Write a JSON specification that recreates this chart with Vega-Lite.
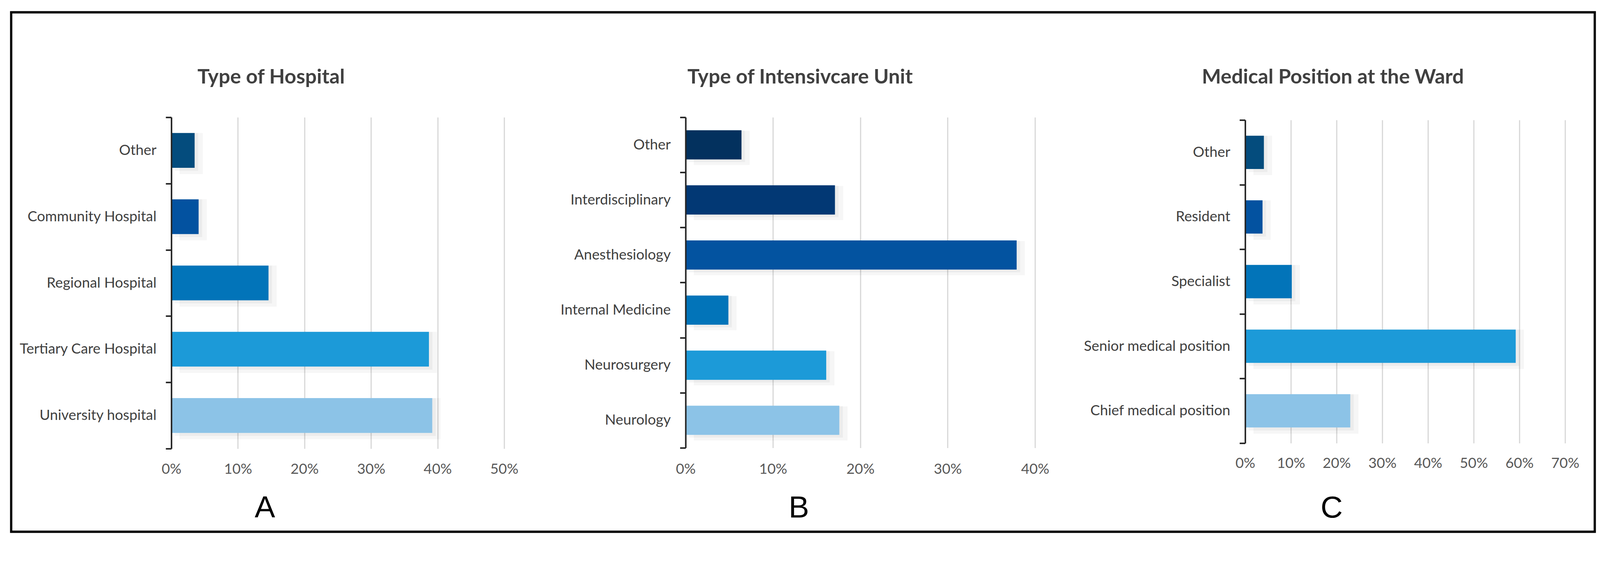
{
  "$schema": "https://vega.github.io/schema/vega-lite/v6.json",
  "width": 4054,
  "height": 1331,
  "autosize": {"type": "none"},
  "padding": {"left": 28.6, "top": 31.5, "right": 165.4, "bottom": 77.5},
  "background": "white",
  "config": {
    "view": {"stroke": "#000000", "strokeWidth": 5.8},
    "axis": {
      "labelFont": "Lato", "labelColor": "#595959", "labelFontSize": 36.8, "labelLimit": 1000,
      "gridColor": "#D6D6D6", "gridWidth": 2.9,
      "domainColor": "#262626", "domainWidth": 3.9,
      "tickColor": "#262626", "tickWidth": 3.9, "tickSize": 14.5,
      "titleFont": "Lato", "titleColor": "#404040", "titleFontWeight": "bold", "titleFontSize": 52
    }
  },
  "resolve": {
    "scale": {"x": "independent", "y": "independent", "color": "independent"},
    "axis": {"x": "independent", "y": "independent"}
  },
  "layer": [
    {
      "data": {"values": [
        {"cat": "Other", "pct": 0.035},
        {"cat": "Community Hospital", "pct": 0.041},
        {"cat": "Regional Hospital", "pct": 0.146},
        {"cat": "Tertiary Care Hospital", "pct": 0.387},
        {"cat": "University hospital", "pct": 0.392}
      ]},
      "resolve": {"axis": {"x": "independent", "y": "independent"}},
      "layer": [
        {
          "mark": {"type": "bar", "color": "#000000", "opacity": 0.035, "height": {"band": 0.62}, "xOffset": 21, "yOffset": 8},
          "encoding": {
            "x": {"field": "pct", "type": "quantitative",
              "scale": {"domain": [0, 0.5], "range": [410, 1262], "nice": false},
              "axis": {"orient": "bottom", "offset": -213, "values": [0, 0.1, 0.2, 0.3, 0.4, 0.5], "format": ".0%", "labelFlush": false,
                "grid": false, "ticks": false, "tickSize": 0, "domain": false, "labelPadding": 53, "labelBaseline": "middle",
                "title": "A", "titleX": 649, "titleY": 176, "titleAlign": "center", "titleBaseline": "alphabetic",
                "titleFont": "Liberation Sans", "titleFontWeight": "normal", "titleFontSize": 78.4, "titleColor": "#000000"}},
            "y": {"field": "cat", "type": "nominal",
              "scale": {"domain": ["Other", "Community Hospital", "Regional Hospital", "Tertiary Care Hospital", "University hospital"], "range": [269, 1118], "paddingInner": 0, "paddingOuter": 0},
              "axis": null}
          }
        },
        {
          "mark": {"type": "bar", "color": "#000000", "opacity": 0.04, "height": {"band": 0.57}, "xOffset": 9, "yOffset": 4},
          "encoding": {
            "x": {"field": "pct", "type": "quantitative", "axis": null},
            "y": {"field": "cat", "type": "nominal", "axis": null}
          }
        },
        {
          "mark": {"type": "bar", "height": {"band": 0.525}},
          "encoding": {
            "x": {"field": "pct", "type": "quantitative",
              "axis": {"orient": "top", "values": [0, 0.1, 0.2, 0.3, 0.4, 0.5], "grid": true, "labels": false, "ticks": false, "domain": false,
                "title": "Type of Hospital", "titleX": 665, "titleY": 182, "titleAlign": "center", "titleBaseline": "alphabetic"}},
            "y": {"field": "cat", "type": "nominal",
              "axis": {"orient": "left", "offset": -410, "tickBand": "extent", "labelPadding": 24, "labelColor": "#404040", "title": null, "zindex": 1}},
            "color": {"field": "cat", "type": "nominal",
              "scale": {"domain": ["Other", "Community Hospital", "Regional Hospital", "Tertiary Care Hospital", "University hospital"],
                        "range": ["#044C7D", "#0352A0", "#0274B9", "#1C9AD8", "#8CC3E7"]},
              "legend": null}
          }
        }
      ]
    },
    {
      "data": {"values": [
        {"cat": "Other", "pct": 0.064},
        {"cat": "Interdisciplinary", "pct": 0.171},
        {"cat": "Anesthesiology", "pct": 0.379},
        {"cat": "Internal Medicine", "pct": 0.049},
        {"cat": "Neurosurgery", "pct": 0.161},
        {"cat": "Neurology", "pct": 0.176}
      ]},
      "resolve": {"axis": {"x": "independent", "y": "independent"}},
      "layer": [
        {
          "mark": {"type": "bar", "color": "#000000", "opacity": 0.035, "height": {"band": 0.62}, "xOffset": 21, "yOffset": 8},
          "encoding": {
            "x": {"field": "pct", "type": "quantitative",
              "scale": {"domain": [0, 0.4], "range": [1726.5, 2621], "nice": false},
              "axis": {"orient": "bottom", "offset": -215, "values": [0, 0.1, 0.2, 0.3, 0.4], "format": ".0%", "labelFlush": false,
                "grid": false, "ticks": false, "tickSize": 0, "domain": false, "labelPadding": 55, "labelBaseline": "middle",
                "title": "B", "titleX": 2016, "titleY": 178, "titleAlign": "center", "titleBaseline": "alphabetic",
                "titleFont": "Liberation Sans", "titleFontWeight": "normal", "titleFontSize": 78.4, "titleColor": "#000000"}},
            "y": {"field": "cat", "type": "nominal",
              "scale": {"domain": ["Other", "Interdisciplinary", "Anesthesiology", "Internal Medicine", "Neurosurgery", "Neurology"], "range": [269, 1116], "paddingInner": 0, "paddingOuter": 0},
              "axis": null}
          }
        },
        {
          "mark": {"type": "bar", "color": "#000000", "opacity": 0.04, "height": {"band": 0.57}, "xOffset": 9, "yOffset": 4},
          "encoding": {
            "x": {"field": "pct", "type": "quantitative", "axis": null},
            "y": {"field": "cat", "type": "nominal", "axis": null}
          }
        },
        {
          "mark": {"type": "bar", "height": {"band": 0.53}},
          "encoding": {
            "x": {"field": "pct", "type": "quantitative",
              "axis": {"orient": "top", "values": [0, 0.1, 0.2, 0.3, 0.4], "grid": true, "labels": false, "ticks": false, "domain": false,
                "title": "Type of Intensivcare Unit", "titleX": 2019, "titleY": 182, "titleAlign": "center", "titleBaseline": "alphabetic"}},
            "y": {"field": "cat", "type": "nominal",
              "axis": {"orient": "left", "offset": -1726.5, "tickBand": "extent", "labelPadding": 24, "labelColor": "#404040", "title": null, "zindex": 1}},
            "color": {"field": "cat", "type": "nominal",
              "scale": {"domain": ["Other", "Interdisciplinary", "Anesthesiology", "Internal Medicine", "Neurosurgery", "Neurology"],
                        "range": ["#03315E", "#023874", "#0353A0", "#0274B9", "#1C9AD8", "#8CC3E7"]},
              "legend": null}
          }
        }
      ]
    },
    {
      "data": {"values": [
        {"cat": "Other", "pct": 0.041},
        {"cat": "Resident", "pct": 0.038},
        {"cat": "Specialist", "pct": 0.102},
        {"cat": "Senior medical position", "pct": 0.592},
        {"cat": "Chief medical position", "pct": 0.23}
      ]},
      "resolve": {"axis": {"x": "independent", "y": "independent"}},
      "layer": [
        {
          "mark": {"type": "bar", "color": "#000000", "opacity": 0.035, "height": {"band": 0.61}, "xOffset": 21, "yOffset": 8},
          "encoding": {
            "x": {"field": "pct", "type": "quantitative",
              "scale": {"domain": [0, 0.7], "range": [3159, 3978], "nice": false},
              "axis": {"orient": "bottom", "offset": -227, "values": [0, 0.1, 0.2, 0.3, 0.4, 0.5, 0.6, 0.7], "format": ".0%", "labelFlush": false,
                "grid": false, "ticks": false, "tickSize": 0, "domain": false, "labelPadding": 52, "labelBaseline": "middle",
                "title": "C", "titleX": 3380, "titleY": 190, "titleAlign": "center", "titleBaseline": "alphabetic",
                "titleFont": "Liberation Sans", "titleFontWeight": "normal", "titleFontSize": 78.4, "titleColor": "#000000"}},
            "y": {"field": "cat", "type": "nominal",
              "scale": {"domain": ["Other", "Resident", "Specialist", "Senior medical position", "Chief medical position"], "range": [276, 1104], "paddingInner": 0, "paddingOuter": 0},
              "axis": null}
          }
        },
        {
          "mark": {"type": "bar", "color": "#000000", "opacity": 0.04, "height": {"band": 0.56}, "xOffset": 9, "yOffset": 4},
          "encoding": {
            "x": {"field": "pct", "type": "quantitative", "axis": null},
            "y": {"field": "cat", "type": "nominal", "axis": null}
          }
        },
        {
          "mark": {"type": "bar", "height": {"band": 0.515}},
          "encoding": {
            "x": {"field": "pct", "type": "quantitative",
              "axis": {"orient": "top", "values": [0, 0.1, 0.2, 0.3, 0.4, 0.5, 0.6, 0.7], "grid": true, "labels": false, "ticks": false, "domain": false,
                "title": "Medical Position at the Ward", "titleX": 3383, "titleY": 182, "titleAlign": "center", "titleBaseline": "alphabetic"}},
            "y": {"field": "cat", "type": "nominal",
              "axis": {"orient": "left", "offset": -3159, "tickBand": "extent", "labelPadding": 24, "labelColor": "#404040", "title": null, "zindex": 1}},
            "color": {"field": "cat", "type": "nominal",
              "scale": {"domain": ["Other", "Resident", "Specialist", "Senior medical position", "Chief medical position"],
                        "range": ["#044C7D", "#0352A0", "#0274B9", "#1C9AD8", "#8CC3E7"]},
              "legend": null}
          }
        }
      ]
    }
  ]
}
